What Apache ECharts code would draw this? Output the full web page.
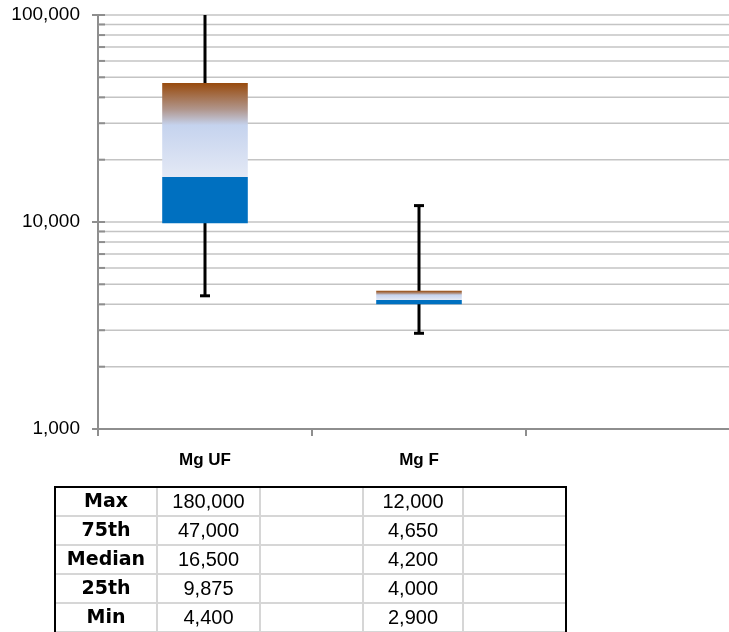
<!DOCTYPE html>
<html><head><meta charset="utf-8">
<script src="https://cdn.jsdelivr.net/npm/echarts@6/dist/echarts.min.js"></script>
<style>html,body{margin:0;padding:0;background:#fff}#c{width:729px;height:632px}</style>
</head><body><div id="c"></div>
<script>
const categories = ['Mg UF', 'Mg F', ''];
const maxVals = [180000, 12000];
const q3Vals = [47000, 4650];
const medianVals = [16500, 4200];
const q1Vals = [9875, 4000];
const minVals = [4400, 2900];
const rowLabels = ['Max', '75th', 'Median', '25th', 'Min'];
const majorTicks = [1000, 10000, 100000];
const minorTicks = [2000, 3000, 4000, 5000, 6000, 7000, 8000, 9000,
  20000, 30000, 40000, 50000, 60000, 70000, 80000, 90000];

const fmt = v => v.toLocaleString('en-US');
const chart = echarts.init(document.getElementById('c'), null, {renderer: 'canvas'});

const boxData = maxVals.map((m, i) => [i, minVals[i], q1Vals[i], medianVals[i], q3Vals[i], maxVals[i]]);
const gridData = minorTicks.map(v => [0, v, 1]).concat(majorTicks.map(v => [0, v, 0]));

// Table built from the data arrays
const rows = [maxVals, q3Vals, medianVals, q1Vals, minVals];
const colX = [55, 157, 260, 363, 463, 566];
const top0 = 487, rowH = 29, tBottom = 645;
const els = [];
const gray = '#D6D6D6';
for (let r = 1; r <= 5; r++) {
  const y = top0 + r * rowH;
  els.push({type: 'line', shape: {x1: colX[0], y1: y, x2: colX[5], y2: y}, style: {stroke: gray, lineWidth: 2}});
}
for (let c = 1; c <= 4; c++) {
  els.push({type: 'line', shape: {x1: colX[c], y1: top0, x2: colX[c], y2: tBottom}, style: {stroke: gray, lineWidth: 2}});
}
els.push({type: 'line', shape: {x1: colX[0] - 1, y1: top0, x2: colX[5] + 1, y2: top0}, style: {stroke: '#000', lineWidth: 2}});
els.push({type: 'line', shape: {x1: colX[0], y1: top0, x2: colX[0], y2: tBottom}, style: {stroke: '#000', lineWidth: 2}});
els.push({type: 'line', shape: {x1: colX[5], y1: top0, x2: colX[5], y2: tBottom}, style: {stroke: '#000', lineWidth: 2}});
rowLabels.forEach((lab, r) => {
  const cy = top0 + r * rowH + rowH / 2 + 1;
  els.push({type: 'text', x: (colX[0] + colX[1]) / 2, y: cy,
    style: {text: lab, font: 'bold 19px "DejaVu Sans"', fill: '#000', align: 'center', verticalAlign: 'middle'}});
  const vals = rows[r];
  vals.forEach((v, i) => {
    const c = 1 + i * 2;
    els.push({type: 'text', x: (colX[c] + colX[c + 1]) / 2, y: cy,
      style: {text: fmt(v), font: '20px "Liberation Sans"', fill: '#000', align: 'center', verticalAlign: 'middle'}});
  });
});

const upperGradient = new echarts.graphic.LinearGradient(0, 0, 0, 1, [
  {offset: 0, color: '#984A0C'},
  {offset: 0.28, color: '#B0958B'},
  {offset: 0.45, color: '#C5D3EE'},
  {offset: 1, color: '#E4E9F5'}
]);

const option = {
  backgroundColor: '#fff',
  animation: false,
  grid: {left: 98, top: 15, width: 642, height: 414, outerBoundsMode: 'none', containLabel: false},
  xAxis: {
    type: 'category',
    data: categories,
    boundaryGap: true,
    axisLine: {lineStyle: {color: '#8E8E8E', width: 2}},
    axisTick: {show: true, length: 7, lineStyle: {color: '#8E8E8E', width: 2}},
    axisLabel: {margin: 23, fontSize: 17, fontWeight: 'bold', fontFamily: 'Liberation Sans', color: '#000', interval: 0},
    splitLine: {show: false}
  },
  yAxis: {
    type: 'log',
    logBase: 10,
    min: 1000,
    max: 100000,
    axisLine: {show: true, lineStyle: {color: '#8E8E8E', width: 2}},
    axisTick: {show: true, length: 6, lineStyle: {color: '#8E8E8E', width: 2}},
    axisLabel: {margin: 18, fontSize: 19, fontFamily: 'Liberation Sans', color: '#000', formatter: v => fmt(v)},
    splitLine: {show: true, lineStyle: {color: '#C4C4C4', width: 1.5}},
    minorTick: {show: false},
    minorSplitLine: {show: false}
  },
  series: [
    {
      type: 'custom',
      name: 'gridlines',
      z: 1,
      silent: true,
      data: gridData,
      renderItem: (params, api) => {
        const cs = params.coordSys;
        const y = api.coord([0, api.value(1)])[1];
        const children = [];
        if (api.value(2) === 1) {
          children.push({type: 'line', shape: {x1: cs.x, y1: y, x2: cs.x + cs.width, y2: y},
            style: {stroke: '#C4C4C4', lineWidth: 1.5}});
        }
        children.push({type: 'line', shape: {x1: cs.x, y1: y, x2: cs.x + 7, y2: y},
          style: {stroke: '#8E8E8E', lineWidth: 2}});
        return {type: 'group', children};
      }
    },
    {
      type: 'custom',
      name: 'box',
      z: 5,
      clip: true,
      silent: true,
      data: boxData,
      renderItem: (params, api) => {
        const x = api.value(0);
        const pMin = api.coord([x, api.value(1)]);
        const pQ1 = api.coord([x, api.value(2)]);
        const pMed = api.coord([x, api.value(3)]);
        const pQ3 = api.coord([x, api.value(4)]);
        const pMax = api.coord([x, api.value(5)]);
        const band = api.coord([x + 1, api.value(3)])[0] - pMed[0];
        const w = band * 0.4;
        const cx = pMed[0];
        const capW = 10;
        const ls = {stroke: '#000', lineWidth: 3};
        return {
          type: 'group',
          children: [
            {type: 'line', shape: {x1: cx, y1: pMin[1], x2: cx, y2: pMax[1]}, style: ls},
            {type: 'line', shape: {x1: cx - capW / 2, y1: pMin[1], x2: cx + capW / 2, y2: pMin[1]}, style: ls},
            {type: 'line', shape: {x1: cx - capW / 2, y1: pMax[1], x2: cx + capW / 2, y2: pMax[1]}, style: ls},
            {type: 'rect', shape: {x: cx - w / 2, y: pMed[1], width: w, height: pQ1[1] - pMed[1]},
              style: {fill: '#0070C0'}},
            {type: 'rect', shape: {x: cx - w / 2, y: pQ3[1], width: w, height: pMed[1] - pQ3[1]},
              style: {fill: upperGradient}}
          ]
        };
      }
    }
  ],
  graphic: {elements: els}
};
chart.setOption(option);
</script>
</body></html>
